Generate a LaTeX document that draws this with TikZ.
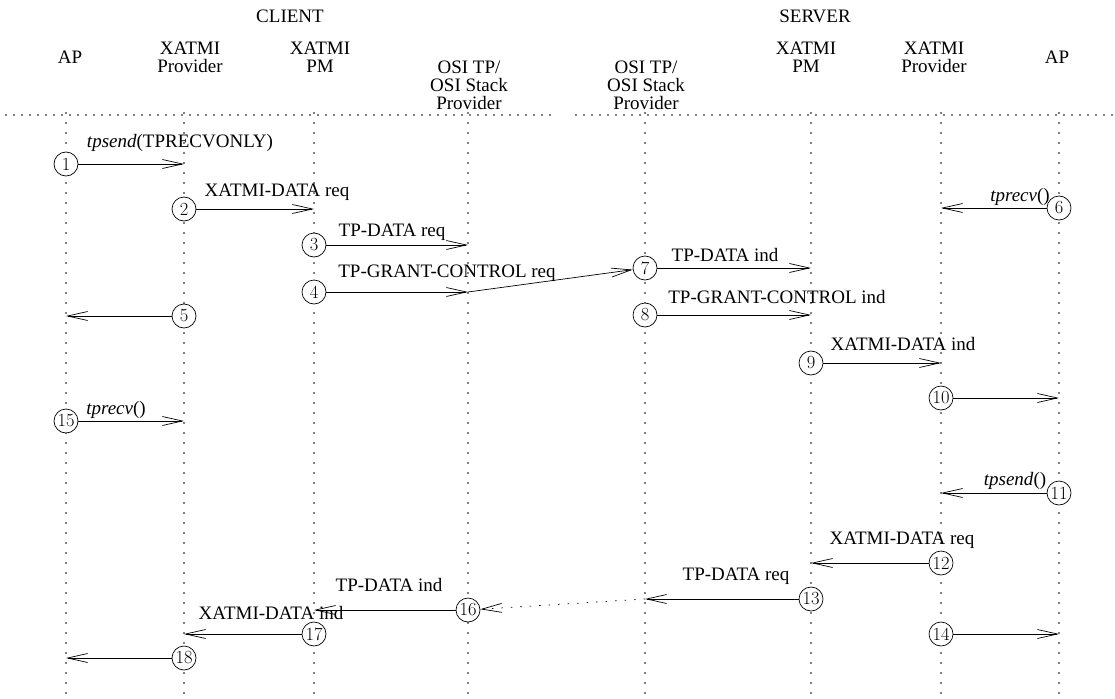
\documentclass[tikz,border=0pt]{standalone}
\usepackage{fontspec}
\usepackage{tikz}
\usetikzlibrary{arrows.meta}
\newfontfamily\labelfont{Liberation Serif}
\tikzset{msg/.style = {-{Straight Barb[length=20pt,width=9pt]}, line width=0.7pt},
         stepno/.style = {circle, draw, line width=0.7pt, minimum size=24pt, inner sep=0pt,
                          font=\fontsize{18.5}{18.5}\selectfont},
         lifeline/.style = {line width=1.6pt, dash pattern=on 0pt off 10pt, line cap=round},
         headrule/.style = {line width=1.6pt, dash pattern=on 0pt off 8pt, line cap=round},
         lbl/.style = {font=\labelfont\fontsize{19}{19}\selectfont, inner sep=0pt},
         head/.style = {font=\labelfont\fontsize{19}{18}\selectfont, align=center, inner sep=0pt}}

\begin{document}
\begin{tikzpicture}[x=1pt, y=-1pt]
    \useasboundingbox (0,0) rectangle (1115,698);

    \node [head] (client) at (290,16) {CLIENT};
    \node [head] (server) at (815,16) {SERVER};

    \node [head] (h1) at (70,57) {AP};
    \node [head] (h2) at (190,57) {XATMI\\Provider};
    \node [head] (h3) at (320,57) {XATMI\\PM};
    \node [head] (h4) at (469,85) {OSI TP/\\OSI Stack\\Provider};
    \node [head] (h5) at (646,85) {OSI TP/\\OSI Stack\\Provider};
    \node [head] (h6) at (806,57) {XATMI\\PM};
    \node [head] (h7) at (934,57) {XATMI\\Provider};
    \node [head] (h8) at (1057,57) {AP};

    \draw [headrule] (6,115) -- (553,115);
    \draw [headrule] (576,115) -- (1112,115);

    \foreach \name/\x in {cap/66, cprov/184, cpm/314, cosi/468, sosi/645, spm/811, sprov/941, sap/1059} {
      \coordinate (\name) at (\x,113);
      \coordinate (\name-b) at (\x,698);
      \draw [lifeline] (\name) -- (\name-b);
    };

    \foreach \n/\x/\y in {1/66/164, 2/184/209, 3/314/245, 4/314/292, 5/184/316, 6/1059/208,
                          7/645/268, 8/645/315, 9/811/363, 10/941/398, 11/1059/493, 12/941/563,
                          13/811/599, 14/941/634, 15/66/421, 16/468/610, 17/314/634, 18/184/658} {
      \node [stepno, fill=white] (s\n) at (\x,\y) {\n};
    };

    % client to server
    \draw [msg] (s1) -- (s1 -| cprov);
    \draw [msg] (s2) -- (s2 -| cpm);
    \draw [msg] (s3) -- (s3 -| cosi);
    \draw [msg] (s4) -- (s4 -| cosi);
    \draw [msg] (s4 -| cosi) -- (s7);
    \draw [msg] (s5) -- (s5 -| cap);
    \draw [msg] (s6) -- (s6 -| sprov);
    \draw [msg] (s7) -- (s7 -| spm);
    \draw [msg] (s8) -- (s8 -| spm);
    \draw [msg] (s9) -- (s9 -| sprov);
    \draw [msg] (s10) -- (s10 -| sap);
    \draw [msg] (s15) -- (s15 -| cprov);

    % server to client
    \draw [msg] (s11) -- (s11 -| sprov);
    \draw [msg] (s12) -- (s12 -| spm);
    \draw [msg] (s13) -- (s13 -| sosi);
    \draw [msg, dash pattern=on 1.5pt off 8pt] (s13 -| sosi) -- (s16);
    \draw [msg] (s16) -- (s16 -| cpm);
    \draw [msg] (s17) -- (s17 -| cprov);
    \draw [msg] (s18) -- (s18 -| cap);
    \draw [msg] (s14) -- (s14 -| sap);

    \node [lbl] (l1) at (180,143) {\textit{tpsend}(TPRECVONLY)};
    \node [lbl] (l2) at (277,192) {XATMI-DATA req};
    \node [lbl] (l3) at (392,232) {TP-DATA req};
    \node [lbl] (l4) at (447,273) {TP-GRANT-CONTROL req};
    \node [lbl] (l6) at (1020,197) {\textit{tprecv}()};
    \node [lbl] (l7) at (725,255) {TP-DATA ind};
    \node [lbl] (l8) at (777,297) {TP-GRANT-CONTROL ind};
    \node [lbl] (l9) at (903,344) {XATMI-DATA ind};
    \node [lbl] (l15) at (116,410) {\textit{tprecv}()};
    \node [lbl] (l11) at (1015,481) {\textit{tpsend}()};
    \node [lbl] (l12) at (902,540) {XATMI-DATA req};
    \node [lbl] (l13) at (736,576) {TP-DATA req};
    \node [lbl] (l16) at (389,585) {TP-DATA ind};
    \node [lbl] (l17) at (271,613) {XATMI-DATA ind};
  \end{tikzpicture}
\end{document}
